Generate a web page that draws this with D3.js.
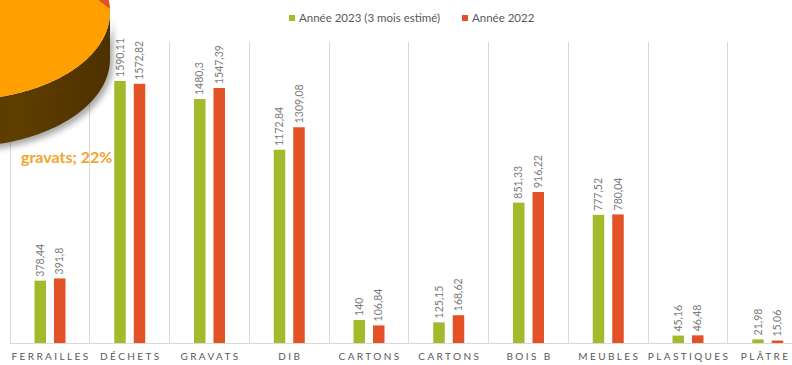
<!DOCTYPE html>
<html><head><meta charset="utf-8">
<script src="https://cdn.jsdelivr.net/npm/d3@7"></script>
<style>html,body{margin:0;padding:0;background:#fff;overflow:hidden}</style>
</head><body><svg id="c" width="792" height="365"></svg>
<script>
const categories = ["FERRAILLES","DÉCHETS","GRAVATS","DIB","CARTONS","CARTONS","BOIS B","MEUBLES","PLASTIQUES","PLÂTRE"];
const series = ["Année 2023 (3 mois estimé)","Année 2022"];
const values2023 = [378.44,1590.11,1480.3,1172.84,140,125.15,851.33,777.52,45.16,21.98];
const values2022 = [391.8,1572.82,1547.39,1309.08,106.84,168.62,916.22,780.04,46.48,15.06];
const pieLabel = "gravats; 22%";

const colors = ["#A5B92D","#E35226"];
const svg = d3.select("#c");
const W = 792, H = 365;
const baseY = 343, gridTop = 42;

const idx = d3.range(categories.length);
const x0 = d3.scaleBand().domain(idx).range([10, 807.5]).padding(0);
const x1 = d3.scaleBand().domain([0,1]).range([24.5, 55.5]).paddingInner(0.41).paddingOuter(0);
const y = d3.scaleLinear().domain([0,2000]).range([baseY, 13.4]);

const data = idx.map(i => ({i, vals:[values2023[i], values2022[i]]}));

// gridlines
const g = svg.append("g");
g.selectAll("line.v").data(idx.concat([categories.length])).join("line")
  .attr("x1", d => d < categories.length ? x0(d) : x0.range()[1])
  .attr("x2", d => d < categories.length ? x0(d) : x0.range()[1])
  .attr("y1", gridTop).attr("y2", baseY)
  .attr("stroke", "#d9d9d9").attr("stroke-width", 1).attr("shape-rendering","crispEdges");
g.append("line").attr("x1", 10).attr("x2", W).attr("y1", baseY).attr("y2", baseY)
  .attr("stroke", "#d9d9d9").attr("shape-rendering","crispEdges");

// bars
const cat = svg.append("g").selectAll("g").data(data).join("g")
  .attr("transform", d => `translate(${x0(d.i)},0)`);
cat.selectAll("rect").data(d => d.vals.map((v,s)=>({v,s}))).join("rect")
  .attr("x", d => x1(d.s)).attr("width", x1.bandwidth())
  .attr("y", d => y(d.v)).attr("height", d => baseY - y(d.v))
  .attr("fill", d => colors[d.s]);
const fmt = v => String(v).replace(".", ",");
cat.selectAll("text").data(d => d.vals.map((v,s)=>({v,s}))).join("text")
  .attr("transform", d => `translate(${x1(d.s)+x1.bandwidth()/2},${y(d.v)-4}) rotate(-90)`)
  .attr("dy", "0.35em")
  .attr("font-family", "Lato, 'Open Sans', sans-serif").attr("font-size", 10.5)
  .attr("fill", "#7a7a7a").text(d => fmt(d.v));

// category labels
const ls = 2.4;
svg.append("g").selectAll("text").data(idx).join("text")
  .attr("x", d => x0(d) + x0.bandwidth()/2 + ls/2).attr("y", 360)
  .attr("text-anchor","middle")
  .attr("font-family", "Lato, 'Open Sans', sans-serif").attr("font-size", 10)
  .attr("letter-spacing", ls).attr("fill", "#595959")
  .text(d => categories[d])
  .each(function(){
    const b = this.getBBox();
    const right = b.x + b.width - ls;
    if (right > W - 4) d3.select(this).attr("x", +d3.select(this).attr("x") - (right - (W - 4)));
  });

// pie fragment (decoration from another chart)
const defs = svg.append("defs");
const f = defs.append("filter").attr("id","sh").attr("x","-50%").attr("y","-50%").attr("width","200%").attr("height","200%");
f.append("feGaussianBlur").attr("stdDeviation", 3);
const gr = defs.append("linearGradient").attr("id","side").attr("x1","0").attr("x2","1").attr("y1","0").attr("y2","0");
gr.append("stop").attr("offset","0").attr("stop-color","#5a3a00");
gr.append("stop").attr("offset","0.7").attr("stop-color","#5e3d00");
gr.append("stop").attr("offset","1").attr("stop-color","#4e3100");

const pcx=-40, pcy=12, prx=150, pry=88, depth=47;
const pt = (t, dy) => [pcx + prx*Math.cos(t), pcy + pry*Math.sin(t) + dy];
const ts = d3.range(0, 181).map(a => a*Math.PI/180);
const topPts = d3.range(0, 361).map(a => pt(a*Math.PI/180, 0));
const sidePts = ts.map(t => pt(t, 0)).concat(ts.slice().reverse().map(t => pt(t, depth)));
const line = d3.line().curve(d3.curveLinearClosed);
defs.append("clipPath").attr("id","topclip").append("path").attr("d", line(topPts));

const pie = svg.append("g");
pie.append("path").attr("d", line(sidePts)).attr("fill","#000").attr("opacity",0.35)
  .attr("transform","translate(3,4)").attr("filter","url(#sh)");
pie.append("path").attr("d", line(sidePts)).attr("fill","url(#side)");
pie.append("path").attr("d", line(topPts)).attr("fill","#FFA000");
pie.append("path").attr("d", line([[92,-5],[110,9],[130,9],[130,-5]])).attr("fill","#E0502A").attr("clip-path","url(#topclip)");

svg.append("text").attr("x", 21).attr("y", 163)
  .attr("font-family", "Lato, 'Open Sans', sans-serif").attr("font-size", 16).attr("font-weight","bold")
  .attr("fill", "#F2A52A").text(pieLabel);

// legend
const lg = svg.append("g").attr("font-family", "Lato, 'Open Sans', sans-serif").attr("font-size", 11.5).attr("fill","#595959");
const lx = [289, 462];
series.forEach((s,i) => {
  lg.append("rect").attr("x", lx[i]).attr("y", 15).attr("width", 6).attr("height", 6).attr("fill", colors[i]);
  lg.append("text").attr("x", lx[i]+10).attr("y", 22).text(s);
});
</script></body></html>
